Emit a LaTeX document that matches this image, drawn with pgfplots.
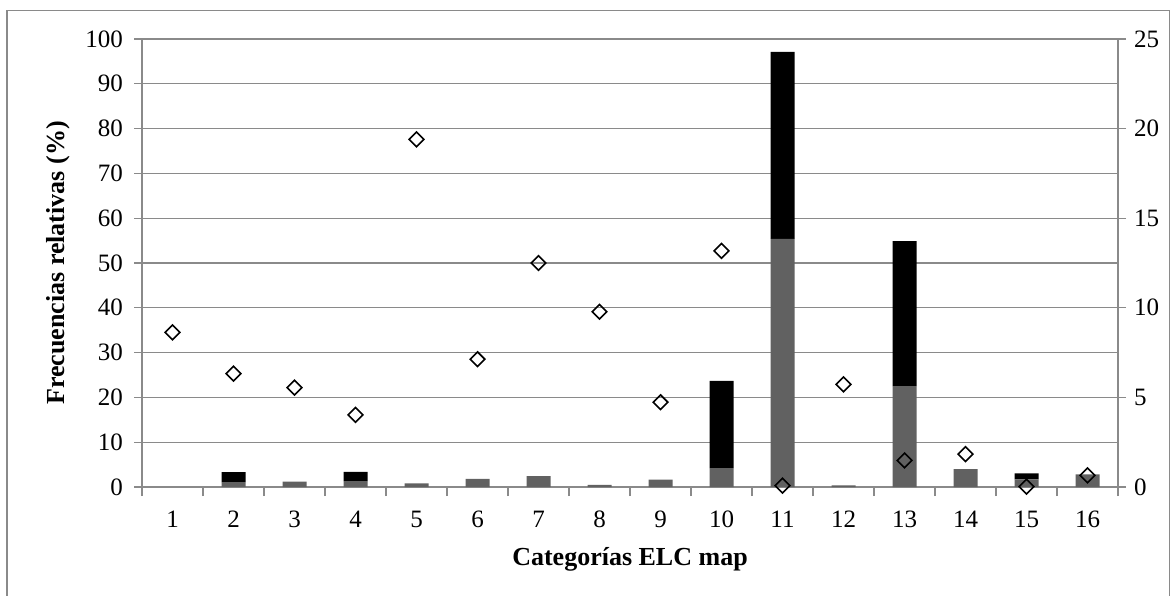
\documentclass[border=0pt]{standalone}
\usepackage{fontspec}
\setmainfont{Liberation Serif}
\usepackage{pgfplots}
\pgfplotsset{compat=1.18}
\definecolor{gridgray}{HTML}{8A8A8A}
\definecolor{bargray}{HTML}{616161}
\begin{document}
\begin{tikzpicture}
\useasboundingbox (0pt,0pt) rectangle (1172pt,-596pt);
% chart frame
\draw[gridgray, line width=1.3pt] (7pt,-10.5pt) rectangle (1169.5pt,-640pt);
\pgfplotsset{
  common/.style={
    scale only axis, width=976pt, height=448pt,
    at={(142pt,-487pt)}, anchor=south west,
    xmin=0.5, xmax=16.5,
    tick align=outside,
    axis line style={gridgray, line width=1.3pt},
    every tick/.style={gridgray, line width=1.3pt},
    major tick length=8pt,
    /pgf/number format/assume math mode=true,
    ticklabel style={font=\fontsize{25}{30}\selectfont},
    label style={font=\fontsize{26}{30}\selectfont\bfseries, inner sep=0pt},
  }
}
\begin{axis}[common,
  ymin=0, ymax=100, ytick={0,10,...,100},
  ymajorgrids, grid style={gridgray, line width=1.3pt},
  axis x line*=bottom, axis y line*=left,
  xtick={1,...,16},
  major x tick style={draw=none},
  minor xtick={0.5,1.5,...,16.5},
  minor tick length=9pt,
  xticklabel style={anchor=base, yshift=-32pt},
  yticklabel style={xshift=-7.5pt},
  xlabel={Categorías ELC map},
  ylabel={Frecuencias relativas (\%)},
  xlabel style={at={(axis description cs:0.5,-0.1741)}, anchor=base},
  ylabel style={at={(axis description cs:-0.0789,0.5)}, anchor=base},
  ybar stacked, bar width=24pt,
]
\addplot[fill=bargray, draw=none] coordinates {
  (1,0) (2,1.1) (3,1.2) (4,1.3) (5,0.8) (6,1.8) (7,2.45) (8,0.5)
  (9,1.65) (10,4.2) (11,55.4) (12,0.35) (13,22.5) (14,4.0) (15,1.7) (16,2.8)};
\addplot[fill=black, draw=none] coordinates {
  (1,0) (2,2.2) (3,0) (4,2.1) (5,0) (6,0) (7,0) (8,0)
  (9,0) (10,19.5) (11,41.7) (12,0) (13,32.4) (14,0) (15,1.35) (16,0)};
\end{axis}
\begin{axis}[common,
  ymin=0, ymax=25, ytick={0,5,...,25},
  axis x line=none, axis y line*=right,
  yticklabel style={xshift=4.7pt},
]
\addplot[only marks, mark=square, mark size=5.2pt,
  mark options={rotate=45, draw=black, fill=white, line width=1.6pt}]
  coordinates {
  (1,8.63) (2,6.33) (3,5.55) (4,4.03) (5,19.4) (6,7.13) (7,12.5) (8,9.78)
  (9,4.73) (10,13.18) (11,0.08) (12,5.73) (13,1.48) (14,1.83) (15,0.02) (16,0.65)};
\end{axis}
\end{tikzpicture}
\end{document}
